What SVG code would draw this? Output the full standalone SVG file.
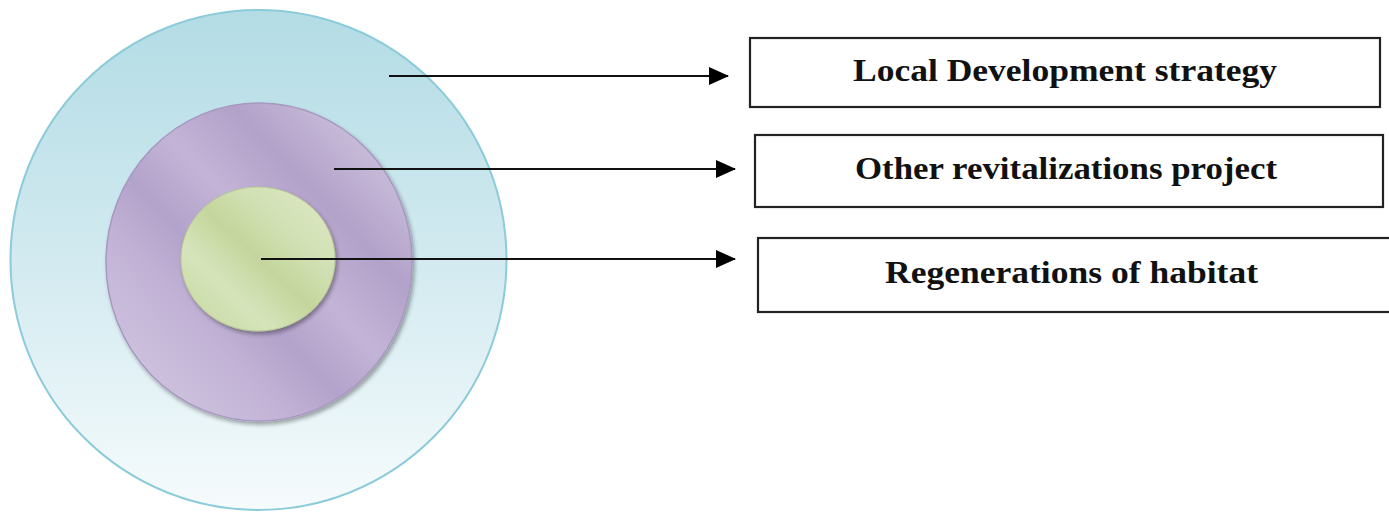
<svg xmlns="http://www.w3.org/2000/svg" width="1389" height="513" viewBox="0 0 1389 513">
  <style>
    .box { fill: #ffffff; stroke: #222222; stroke-width: 2.2; }
    .label { font-family: "Liberation Serif", "Times New Roman", serif; font-weight: bold; font-size: 31px; fill: #111111; }
    .link { stroke: #111111; stroke-width: 2; fill: none; marker-end: url(#head); }
  </style>
  <defs>
    <marker id="head" viewBox="0 0 20 18" refX="19" refY="9" markerWidth="20" markerHeight="18" markerUnits="userSpaceOnUse" orient="auto">
      <path d="M0,0 L20,9 L0,18 Z" fill="#000000"/>
    </marker>
    <linearGradient id="outerFill" x1="0" y1="0" x2="0" y2="1">
      <stop offset="0" stop-color="#b3dce5"/>
      <stop offset="0.5" stop-color="#d2eaf0"/>
      <stop offset="1" stop-color="#f6fbfc"/>
    </linearGradient>
    <linearGradient id="midFill" x1="0" y1="1" x2="1" y2="0">
      <stop offset="0" stop-color="#d6cce3"/>
      <stop offset="0.3" stop-color="#c2b3d6"/>
      <stop offset="0.42" stop-color="#b3a2ca"/>
      <stop offset="0.55" stop-color="#c3b4d7"/>
      <stop offset="0.7" stop-color="#b2a1c9"/>
      <stop offset="1" stop-color="#dbd3e7"/>
    </linearGradient>
    <linearGradient id="coreFill" x1="0" y1="1" x2="1" y2="0">
      <stop offset="0" stop-color="#c5d79c"/>
      <stop offset="0.3" stop-color="#d6e4bb"/>
      <stop offset="0.5" stop-color="#c4d69c"/>
      <stop offset="0.7" stop-color="#d2e1b5"/>
      <stop offset="1" stop-color="#dfe9c9"/>
    </linearGradient>
    <filter id="shade" x="-10%" y="-10%" width="125%" height="125%">
      <feGaussianBlur in="SourceAlpha" stdDeviation="2"/>
      <feOffset dx="2" dy="3"/>
      <feComponentTransfer><feFuncA type="linear" slope="0.35"/></feComponentTransfer>
      <feMerge><feMergeNode/><feMergeNode in="SourceGraphic"/></feMerge>
    </filter>
  </defs>

  <!-- nested rings -->
  <g id="ring-outer">
    <ellipse cx="258.5" cy="260" rx="248" ry="250" fill="url(#outerFill)" stroke="#8ccbd9" stroke-width="2"/>
  </g>
  <g id="ring-middle" filter="url(#shade)">
    <ellipse cx="259" cy="262" rx="153" ry="159" fill="url(#midFill)" stroke="#a898c0" stroke-width="1.5"/>
  </g>
  <g id="ring-core" filter="url(#shade)">
    <ellipse cx="258" cy="259" rx="77" ry="72" fill="url(#coreFill)" stroke="#b9cc90" stroke-width="1"/>
  </g>

  <!-- label boxes -->
  <g id="box-strategy">
    <rect class="box" x="750" y="38" width="630" height="69"/>
    <text class="label" x="853" y="81" textLength="424" lengthAdjust="spacingAndGlyphs">Local Development  strategy</text>
  </g>
  <g id="box-revitalization">
    <rect class="box" x="755" y="135" width="628" height="72"/>
    <text class="label" x="855" y="179" textLength="422" lengthAdjust="spacingAndGlyphs">Other revitalizations project</text>
  </g>
  <g id="box-habitat">
    <rect class="box" x="758" y="238" width="640" height="74"/>
    <text class="label" x="885" y="283" textLength="373" lengthAdjust="spacingAndGlyphs">Regenerations of habitat</text>
  </g>

  <!-- connectors -->
  <g id="connectors">
    <line class="link" x1="389" y1="76" x2="728" y2="76"/>
    <line class="link" x1="334" y1="169" x2="735" y2="169"/>
    <line class="link" x1="261" y1="259" x2="735" y2="259"/>
  </g>
</svg>
